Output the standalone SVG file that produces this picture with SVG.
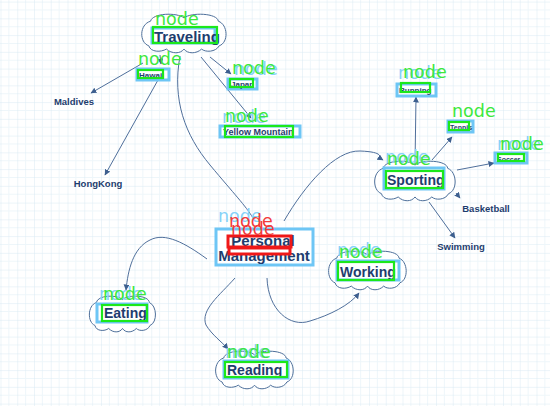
<svg xmlns="http://www.w3.org/2000/svg" xmlns:xlink="http://www.w3.org/1999/xlink" width="550" height="406" viewBox="0 0 550 406">
<style>
.lbl{font-family:"Liberation Sans",Arial,sans-serif;font-weight:bold;fill:#1e3d6e}
.nd{font-family:"DejaVu Sans",sans-serif;font-size:17.5px;fill:#3de83d}
.ndb{font-family:"DejaVu Sans",sans-serif;font-size:17.5px;fill:#86d2f8}
.ndr{font-family:"DejaVu Sans",sans-serif;font-size:17.5px;fill:#f23a3a}
.hb{fill:#ffffff;stroke:#6ec6f5;stroke-width:3}
.gb{fill:none;stroke:#1be81b;stroke-width:2.2}
.rb{fill:none;stroke:#f01818;stroke-width:3}
.cl{fill:#ffffff;stroke:#4d6f9a;stroke-width:1}
.cn{fill:none;stroke:#4f6f9b;stroke-width:1}
</style>
<defs>
<pattern id="grid" patternUnits="userSpaceOnUse" x="0.5" y="1.6" width="16.75" height="16.75">
<path d="M8.4,0V16.75M0,8.4H16.75" stroke="#eef6fa" stroke-width="1" fill="none"/>
<path d="M0,0V16.75M0,0H16.75" stroke="#d9eaf3" stroke-width="1" fill="none"/>
</pattern>
<path id="cloud" vector-effect="non-scaling-stroke" d="M12,10 C14,0 42,-1 50,6 C58,-1 88,0 89,10 C100,14 101,36 90,40 C86,48 74,48 70,44 C64,50 54,50 50,44 C46,50 36,50 30,44 C24,48 12,48 10,40 C-1,36 -1,14 12,10 Z"/>
<marker id="ah" markerUnits="userSpaceOnUse" markerWidth="7" markerHeight="7" refX="5.5" refY="3" orient="auto">
<path d="M0,0 L6,3 L0,6 Z" fill="#3d5f8f"/>
</marker>
</defs>
<rect width="550" height="406" fill="#ffffff"/>
<rect width="550" height="406" fill="url(#grid)"/>

<g id="connectors">
<path class="cn" marker-end="url(#ah)" d="M160,55 L161,64"/>
<path class="cn" marker-end="url(#ah)" d="M143,63 L91,93"/>
<path class="cn" marker-end="url(#ah)" d="M158,80 L105,175"/>
<path class="cn" marker-end="url(#ah)" d="M210,57 L231,74"/>
<path class="cn" marker-end="url(#ah)" d="M201,57 L251,118"/>
<path class="cn" d="M180,56 C172,100 185,135 210,165 S245,205 253,218"/>
<path class="cn" marker-end="url(#ah)" d="M284,221 C305,185 335,150 360,151 S378,157 383,160"/>
<path class="cn" marker-end="url(#ah)" d="M207,259 C185,243 165,232 150,240 C133,248 128,270 126,290"/>
<path class="cn" marker-end="url(#ah)" d="M235,278 C220,295 200,310 206,325 C212,335 222,342 228,349"/>
<path class="cn" marker-end="url(#ah)" d="M267,278 C268,310 290,328 310,321 C330,315 350,305 359,293"/>
<path class="cn" marker-end="url(#ah)" d="M415,165 L416,97"/>
<path class="cn" marker-end="url(#ah)" d="M432,160 L452,137"/>
<path class="cn" marker-end="url(#ah)" d="M457,170 L494,163"/>
<path class="cn" marker-end="url(#ah)" d="M456,193 L460,198"/>
<path class="cn" marker-end="url(#ah)" d="M429,202 L455,238"/>
</g>

<g id="traveling">
<use xlink:href="#cloud" class="cl" transform="translate(140,13) scale(0.88,0.82)"/>
<rect class="hb" x="152" y="28" width="63" height="15"/>
<text class="lbl" x="154" y="42" font-size="15">Traveling</text>
<rect class="gb" x="153" y="27" width="64" height="16"/>
<text class="nd" x="155" y="25">node</text>
</g>

<g id="hawaii">
<rect class="hb" x="137" y="69" width="32" height="11"/>
<text class="lbl" x="139" y="78" font-size="8">Hawaii</text>
<rect class="gb" x="138" y="70" width="25" height="8"/>
<text class="nd" x="138" y="65">node</text>
</g>

<g id="japan">
<rect class="hb" x="228" y="79" width="29" height="10"/>
<text class="lbl" x="231" y="87" font-size="8">Japan</text>
<rect class="gb" x="230" y="79" width="23" height="8"/>
<text class="ndb" x="234" y="75">node</text>
<text class="nd" x="232" y="74">node</text>
</g>

<g id="yellow-mountain">
<rect class="hb" x="220" y="126" width="80" height="11"/>
<text class="lbl" x="223" y="135" font-size="9">Yellow Mountain</text>
<rect class="gb" x="225" y="126" width="68" height="11"/>
<text class="ndb" x="222" y="123">node</text>
<text class="nd" x="225" y="122">node</text>
</g>

<g id="maldives">
<text class="lbl" x="74" y="105" font-size="9.5" text-anchor="middle">Maldives</text>
</g>

<g id="hongkong">
<text class="lbl" x="98" y="187" font-size="9.5" text-anchor="middle">HongKong</text>
</g>

<g id="personal-management">
<rect class="hb" x="216" y="229" width="97" height="36"/>
<text class="lbl" x="263" y="246" font-size="15" text-anchor="middle">Personal</text>
<text class="lbl" x="264" y="261" font-size="15" text-anchor="middle">Management</text>
<rect class="rb" x="228" y="236" width="63" height="11"/>
<rect class="rb" x="229" y="248" width="61" height="6"/>
<text class="ndb" x="218" y="222">node</text>
<text class="ndr" x="229" y="227">node</text>
<text class="ndr" x="231" y="235">node</text>
</g>

<g id="sporting">
<use xlink:href="#cloud" class="cl" transform="translate(373,160) scale(0.84,0.84)"/>
<rect class="hb" x="384" y="168" width="60" height="21"/>
<text class="lbl" x="387" y="185" font-size="14">Sporting</text>
<rect class="gb" x="386" y="171" width="57" height="17"/>
<text class="ndb" x="385" y="163">node</text>
<text class="nd" x="387" y="165">node</text>
</g>

<g id="running">
<rect class="hb" x="397" y="84" width="39" height="12"/>
<text class="lbl" x="399" y="93" font-size="8">Running</text>
<rect class="gb" x="401" y="83" width="29" height="9"/>
<text class="ndb" x="398" y="79">node</text>
<text class="nd" x="403" y="78">node</text>
</g>

<g id="tennis">
<rect class="hb" x="448" y="121" width="25" height="11"/>
<text class="lbl" x="450" y="130" font-size="7">Tennis</text>
<rect class="gb" x="449" y="122" width="20" height="8"/>
<text class="nd" x="452" y="117">node</text>
</g>

<g id="soccer">
<rect class="hb" x="495" y="153" width="32" height="10"/>
<text class="lbl" x="497" y="162" font-size="7">Soccer</text>
<rect class="gb" x="498" y="154" width="26" height="7"/>
<text class="ndb" x="497" y="150">node</text>
<text class="nd" x="500" y="150">node</text>
</g>

<g id="basketball">
<text class="lbl" x="486" y="212" font-size="9.5" text-anchor="middle">Basketball</text>
</g>

<g id="swimming">
<text class="lbl" x="461" y="250" font-size="9.5" text-anchor="middle">Swimming</text>
</g>

<g id="working">
<use xlink:href="#cloud" class="cl" transform="translate(327,250) scale(0.81,0.82)"/>
<rect class="hb" x="337" y="261" width="62" height="19"/>
<text class="lbl" x="340" y="277" font-size="14">Working</text>
<rect class="gb" x="338" y="262" width="56" height="18"/>
<text class="ndb" x="337" y="256">node</text>
<text class="nd" x="339" y="258">node</text>
</g>

<g id="reading">
<use xlink:href="#cloud" class="cl" transform="translate(214,350) scale(0.81,0.8)"/>
<rect class="hb" x="224" y="361" width="64" height="17"/>
<text class="lbl" x="227" y="375" font-size="14">Reading</text>
<rect class="gb" x="225" y="362" width="62" height="15"/>
<text class="ndb" x="225" y="358">node</text>
<text class="nd" x="227" y="358">node</text>
</g>

<g id="eating">
<use xlink:href="#cloud" class="cl" transform="translate(88,295) scale(0.69,0.76)"/>
<rect class="hb" x="97" y="304" width="50" height="18"/>
<text class="lbl" x="104" y="318" font-size="14">Eating</text>
<rect class="gb" x="102" y="305" width="45" height="16"/>
<text class="ndb" x="99" y="300">node</text>
<text class="nd" x="103" y="300">node</text>
</g>
</svg>
